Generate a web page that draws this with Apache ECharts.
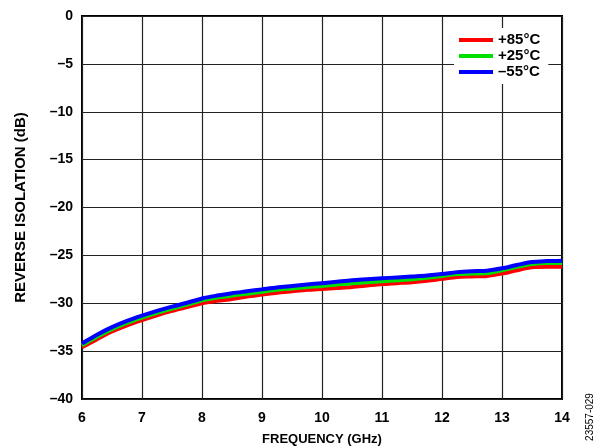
<!DOCTYPE html>
<html>
<head>
<meta charset="utf-8">
<script src="https://cdn.jsdelivr.net/npm/echarts@6/dist/echarts.min.js"></script>
<style>
  html, body { margin: 0; padding: 0; background: #fff; }
  #chart { width: 602px; height: 448px; }
</style>
</head>
<body>
<div id="chart"></div>
<script>
// frequency points (GHz)
const freq = [6, 6.25, 6.5, 6.75, 7, 7.25, 7.5, 7.75, 8, 8.25, 8.5, 8.75, 9, 9.25, 9.5, 9.75,
  10, 10.25, 10.5, 10.75, 11, 11.25, 11.5, 11.75, 12, 12.25, 12.5, 12.75, 13, 13.25, 13.5, 13.75, 14];

// reverse isolation (dB)
const iso85 = [-34.6, -33.75, -32.95, -32.3, -31.75, -31.25, -30.8, -30.4, -30.0, -29.75, -29.55, -29.3,
  -29.1, -28.9, -28.75, -28.6, -28.5, -28.4, -28.3, -28.15, -28.0, -27.9, -27.8, -27.65, -27.45, -27.25,
  -27.2, -27.15, -26.9, -26.55, -26.25, -26.2, -26.2];
const iso25 = [-34.4, -33.5, -32.7, -32.05, -31.5, -31.0, -30.55, -30.15, -29.7, -29.4, -29.2, -29.0,
  -28.8, -28.6, -28.45, -28.3, -28.2, -28.05, -27.9, -27.8, -27.7, -27.6, -27.5, -27.35, -27.15, -26.95,
  -26.9, -26.85, -26.55, -26.2, -25.9, -25.8, -25.8];
const isoM55 = [-34.2, -33.3, -32.5, -31.85, -31.3, -30.8, -30.35, -29.95, -29.5, -29.2, -28.95, -28.75,
  -28.55, -28.35, -28.2, -28.05, -27.9, -27.75, -27.6, -27.5, -27.4, -27.3, -27.2, -27.1, -26.95, -26.75,
  -26.65, -26.6, -26.35, -26.0, -25.7, -25.6, -25.55];

const seriesNames = ["+85°C", "+25°C", "–55°C"];
const seriesColors = ["#ff0000", "#00e000", "#0000ff"];
const seriesData = [iso85, iso25, isoM55];

const font = "Liberation Sans, Arial, sans-serif";
const chart = echarts.init(document.getElementById("chart"));

const series = seriesData.map((vals, i) => ({
  name: seriesNames[i],
  type: "line",
  data: freq.map((f, j) => [f, vals[j]]),
  showSymbol: false,
  smooth: 0.3,
  lineStyle: { color: seriesColors[i], width: 4 },
  itemStyle: { color: seriesColors[i] },
  z: 2 + i,
}));

chart.setOption({
  animation: false,
  grid: {
    left: 82, right: 40, top: 16, bottom: 49,
    containLabel: false, outerBoundsMode: "none",
    show: true, borderColor: "#000", borderWidth: 2, backgroundColor: "transparent",
  },
  legend: {
    data: seriesNames,
    orient: "vertical",
    left: 454, top: 28,
    padding: [4, 8, 4, 5],
    backgroundColor: "#fff",
    itemWidth: 34, itemHeight: 4, itemGap: 0,
    icon: "rect",
    z: 10,
    textStyle: { fontFamily: font, fontWeight: "bold", fontSize: 15, color: "#000", lineHeight: 16 },
  },
  xAxis: {
    type: "value", min: 6, max: 14, interval: 1,
    name: "FREQUENCY (GHz)", nameLocation: "middle", nameGap: 34,
    nameTextStyle: { fontFamily: font, fontWeight: "bold", fontSize: 13, color: "#000" },
    axisLine: { show: false }, axisTick: { show: false },
    axisLabel: { fontFamily: font, fontWeight: "bold", fontSize: 14, color: "#000", margin: 12 },
    splitLine: { show: true, lineStyle: { color: "#222", width: 1.2 } },
  },
  yAxis: {
    type: "value", min: -40, max: 0, interval: 5,
    name: "REVERSE ISOLATION (dB)", nameLocation: "middle", nameGap: 54,
    nameTextStyle: { fontFamily: font, fontWeight: "bold", fontSize: 15, color: "#000" },
    axisLine: { show: false }, axisTick: { show: false },
    axisLabel: {
      fontFamily: font, fontWeight: "bold", fontSize: 14, color: "#000", margin: 9,
      formatter: (v) => String(v).replace("-", "–"),
    },
    splitLine: { show: true, lineStyle: { color: "#222", width: 1.2 } },
  },
  graphic: [{
    type: "text", x: 590, y: 417, rotation: Math.PI / 2,
    style: { text: "23557-029", fontFamily: font, fontSize: 10, fill: "#000", align: "center", verticalAlign: "middle" },
  }],
  series,
});
</script>
</body>
</html>
